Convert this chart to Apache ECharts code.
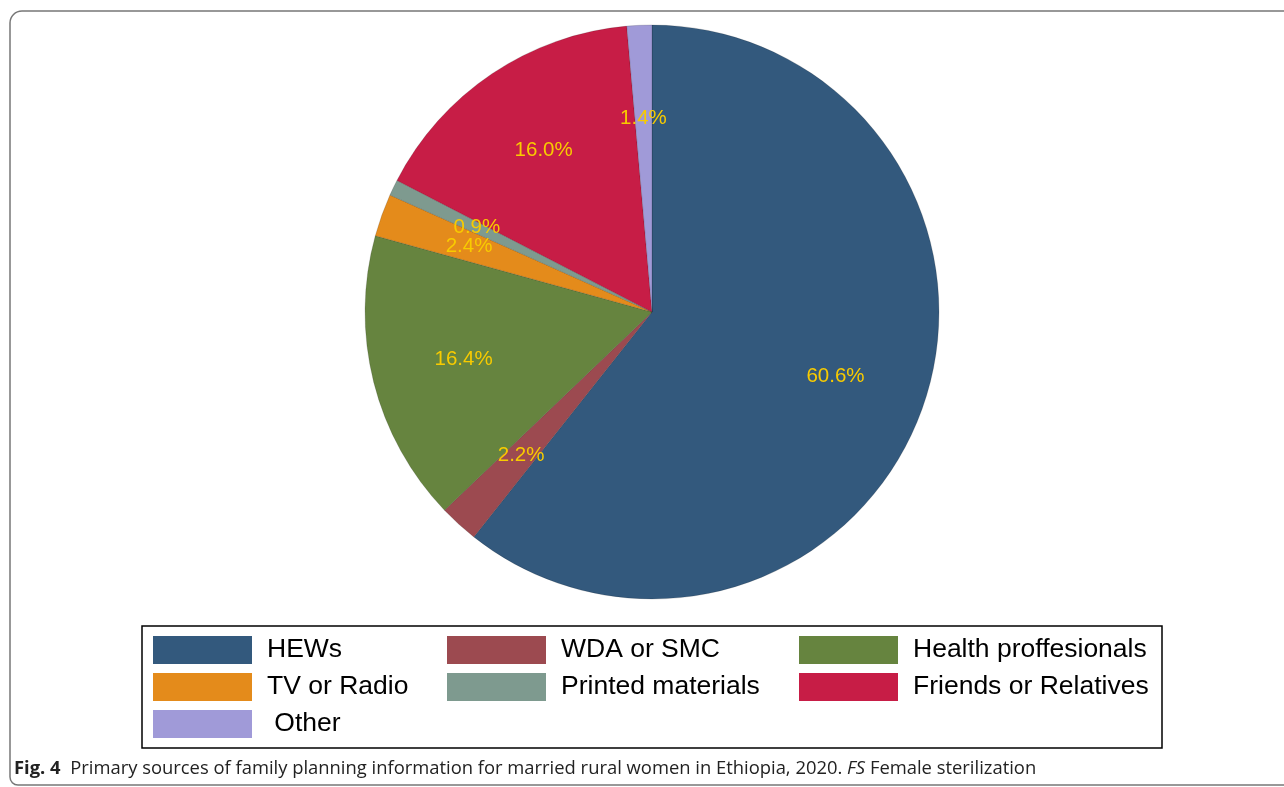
<!DOCTYPE html>
<html><head><meta charset="utf-8">
<script src="https://cdn.jsdelivr.net/npm/echarts@6/dist/echarts.min.js"></script>
<style>html,body{margin:0;padding:0;background:#fff}#c{width:1284px;height:787px}</style>
</head><body><div id="c"></div>
<script>
const categories = ['HEWs','WDA or SMC','Health proffesionals','TV or Radio','Printed materials','Friends or Relatives','Other'];
const legendNames = ['HEWs','WDA or SMC','Health proffesionals','TV or Radio','Printed materials','Friends or Relatives',' Other'];
const values = [60.6, 2.2, 16.4, 2.4, 0.9, 16.0, 1.4];
const colors = ['#33597D','#9C4A50','#66843F','#E48B1B','#7E9A8F','#C71D46','#A09AD8'];
const labelTexts = ['60.6%','2.2%','16.4%','2.4%','0.9%','16.0%','1.4%'];

const chart = echarts.init(document.getElementById('c'), null, {renderer:'canvas'});
const cx = 652, cy = 312, R = 287;
const data = categories.map((c,i)=>({name: legendNames[i], value: values[i], itemStyle:{color: colors[i]}}));
const labelData = categories.map((c,i)=>({name: 'lbl'+i, value: values[i], label:{formatter: labelTexts[i]}}));

function legendCol(names, left) {
  return {
    orient:'vertical', left:left, top:636, padding:0, itemWidth:99, itemHeight:28, itemGap:9,
    icon:'rect', data:names, selectedMode:false,
    itemStyle:{borderWidth:0},
    textStyle:{fontFamily:'Liberation Sans, Arial', fontSize:26.5, lineHeight:25, color:'#000', padding:[3,0,0,10]}
  };
}

chart.setOption({
  animation:false,
  legend:[
    legendCol(['HEWs','TV or Radio',' Other'], 153),
    legendCol(['WDA or SMC','Printed materials'], 447),
    legendCol(['Health proffesionals','Friends or Relatives'], 799)
  ],
  graphic:[
    {type:'rect', shape:{x:142, y:626, width:1020, height:122}, style:{fill:'none', stroke:'#000', lineWidth:1.5}, z:-1},
    {type:'rect', shape:{x:10, y:11, width:1400, height:774, r:[12,0,0,8]}, style:{fill:'none', stroke:'#777', lineWidth:1.5}, z:-2},
    {type:'text', left:14, top:760, style:{
      text:'{b|Fig. 4}  Primary sources of family planning information for married rural women in Ethiopia, 2020. {i|FS} Female sterilization',
      rich:{
        b:{fontFamily:'Open Sans', fontWeight:'bold', fontSize:18.4, fill:'#222'},
        i:{fontFamily:'Open Sans', fontStyle:'italic', fontSize:18.4, fill:'#222'}
      },
      fontFamily:'Open Sans', fontSize:18.4, fill:'#222'
    }}
  ],
  series:[
    {
      type:'pie', center:[cx,cy], radius:[0,R], startAngle:90, clockwise:true,
      silent:true, label:{show:false}, labelLine:{show:false},
      itemStyle:{borderColor:'rgba(0,0,0,0.25)', borderWidth:0.6},
      data:data
    },
    {
      type:'pie', center:[cx,cy], radius:[0,R*4/3], startAngle:90, clockwise:true,
      silent:true, itemStyle:{color:'rgba(0,0,0,0)'}, legendHoverLink:false,
      avoidLabelOverlap:false, labelLayout:{hideOverlap:false},
      label:{show:true, position:'inside', color:'#F8CB00', fontSize:20.5, fontFamily:'Liberation Sans, Arial'},
      labelLine:{show:false}, z:5,
      data:labelData
    }
  ]
});
</script></body></html>
